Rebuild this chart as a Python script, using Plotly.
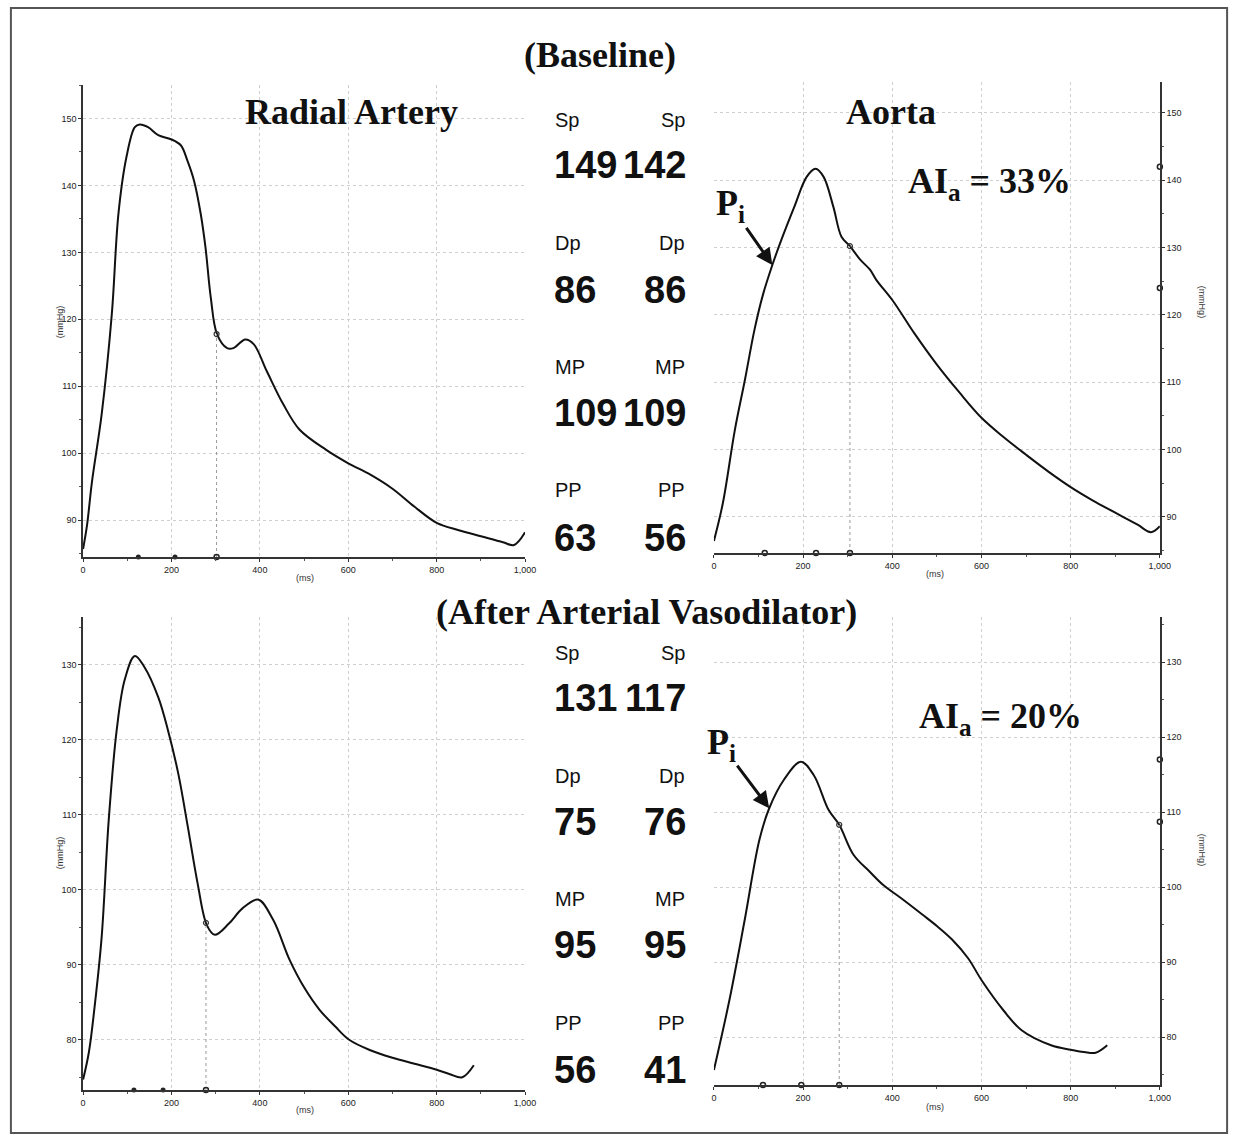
import plotly.graph_objects as go

W, H = 1246, 1141

# ---------------- data ----------------
radial_base_t = [0, 9, 20, 42, 65, 80, 98, 117, 128, 147, 170, 199, 221, 236, 251, 266, 277, 289, 303, 326, 340, 367, 386, 416, 453, 490, 550, 600, 650, 700, 750, 800, 850, 900, 950, 975, 1000]
radial_base_p = [85.7, 89.3, 95.7, 105.8, 120.8, 135.8, 144.2, 148.7, 149.1, 148.7, 147.5, 146.9, 146.0, 143.7, 140.7, 135.8, 130.7, 123.2, 117.8, 115.7, 115.7, 117.0, 116.3, 112.2, 107.3, 103.5, 100.5, 98.5, 96.8, 94.7, 92.0, 89.6, 88.5, 87.6, 86.7, 86.3, 88.2]

aorta_base_t = [0, 20, 47, 70, 91, 110, 131, 151, 180, 208, 228, 246, 268, 286, 305, 328, 350, 364, 400, 450, 500, 550, 600, 650, 700, 750, 800, 850, 900, 950, 980, 1000]
aorta_base_p = [86.4, 92.0, 102.9, 110.5, 117.8, 123.0, 127.4, 131.1, 136.0, 140.5, 141.7, 140.5, 136.0, 131.6, 130.2, 128.2, 126.7, 125.2, 122.2, 117.2, 112.6, 108.5, 104.7, 101.8, 99.2, 96.7, 94.4, 92.4, 90.6, 88.8, 87.7, 88.6]

radial_post_t = [0, 13, 27, 42, 58, 76, 94, 117, 139, 170, 192, 215, 237, 259, 280, 298, 330, 360, 396, 430, 467, 500, 535, 570, 602, 650, 700, 750, 800, 830, 858, 884]
radial_post_p = [74.7, 78.3, 84.9, 93.7, 109.3, 121.3, 128.0, 131.2, 129.7, 125.7, 121.3, 115.6, 108.4, 100.9, 95.3, 94.0, 95.5, 97.5, 98.7, 96.0, 90.7, 87.0, 84.0, 81.8, 80.0, 78.6, 77.6, 76.8, 76.0, 75.4, 75.0, 76.6]

aorta_post_t = [0, 35, 69, 102, 124, 157, 195, 224, 257, 281, 313, 350, 379, 420, 468, 500, 534, 570, 601, 650, 690, 756, 800, 830, 856, 882]
aorta_post_p = [75.6, 85.0, 95.6, 106.3, 110.5, 114.3, 116.7, 114.9, 110.3, 108.3, 104.3, 102.0, 100.3, 98.5, 96.3, 94.8, 93.0, 90.5, 87.5, 83.5, 80.9, 78.9, 78.3, 78.0, 77.9, 78.9]

# axis-baseline markers (ms) : filled / open
tl_marks_filled = [125, 208]
tl_marks_open = [302]
tr_marks_open = [114, 229, 305]
bl_marks_filled = [115, 181]
bl_marks_open = [278]
br_marks_open = [110, 196, 281]
# markers on the right (pressure) axis
tr_axis_marks = [142, 124]
br_axis_marks = [117, 108.7]
# dotted drop lines (ms, mmHg)
tl_drop = (302, 117.8)
tr_drop = (305, 130.2)
bl_drop = (278, 95.6)
br_drop = (281, 108.3)
# Pi arrow heads (ms, mmHg)
tr_pi = (131, 127.4)
br_pi = (124, 110.5)

# readout values
labels = ["Sp", "Dp", "MP", "PP"]
base_radial_vals = ["149", "86", "109", "63"]
base_aorta_vals = ["142", "86", "109", "56"]
post_radial_vals = ["131", "75", "95", "56"]
post_aorta_vals = ["117", "76", "95", "41"]

ranges = {
    "tl": [84.5, 155.0],
    "tr": [84.6, 154.6],
    "bl": [73.3, 136.4],
    "br": [73.6, 136.0],
}

def px_x(p):
    return p / W

def px_y(p):
    return 1 - p / H

fig = go.Figure()

LINE = dict(color="#111111", width=2)
TICKFONT = dict(family="Liberation Sans, Arial", size=9, color="#222222")

def add_panel(xa, ya, t, p, rng, filled, opened, drop, axis_marks=None):
    fig.add_trace(go.Scatter(x=t, y=p, mode="lines", line=dict(shape="spline", smoothing=1.0, **LINE),
                             xaxis=xa, yaxis=ya, showlegend=False, hoverinfo="skip"))
    fig.add_trace(go.Scatter(x=[drop[0], drop[0]], y=[rng[0], drop[1]], mode="lines",
                             line=dict(color="#999999", width=1, dash="dot"),
                             xaxis=xa, yaxis=ya, showlegend=False, hoverinfo="skip"))
    fig.add_trace(go.Scatter(x=[drop[0]], y=[drop[1]], mode="markers",
                             marker=dict(symbol="circle-open", size=5, color="#333333", line=dict(width=1.2)),
                             xaxis=xa, yaxis=ya, showlegend=False, hoverinfo="skip", cliponaxis=False))
    if filled:
        fig.add_trace(go.Scatter(x=filled, y=[rng[0]] * len(filled), mode="markers",
                                 marker=dict(symbol="circle", size=5, color="#222222"),
                                 xaxis=xa, yaxis=ya, showlegend=False, hoverinfo="skip", cliponaxis=False))
    if opened:
        fig.add_trace(go.Scatter(x=opened, y=[rng[0]] * len(opened), mode="markers",
                                 marker=dict(symbol="circle-open", size=5, color="#222222", line=dict(width=1.5)),
                                 xaxis=xa, yaxis=ya, showlegend=False, hoverinfo="skip", cliponaxis=False))
    if axis_marks:
        fig.add_trace(go.Scatter(x=[1000] * len(axis_marks), y=axis_marks, mode="markers",
                                 marker=dict(symbol="circle-open", size=5, color="#222222", line=dict(width=1.5)),
                                 xaxis=xa, yaxis=ya, showlegend=False, hoverinfo="skip", cliponaxis=False))

add_panel("x", "y", radial_base_t, radial_base_p, ranges["tl"], tl_marks_filled, tl_marks_open, tl_drop)
add_panel("x2", "y2", aorta_base_t, aorta_base_p, ranges["tr"], None, tr_marks_open, tr_drop, tr_axis_marks)
add_panel("x3", "y3", radial_post_t, radial_post_p, ranges["bl"], bl_marks_filled, bl_marks_open, bl_drop)
add_panel("x4", "y4", aorta_post_t, aorta_post_p, ranges["br"], None, br_marks_open, br_drop, br_axis_marks)

GRID = "#cfcfcf"

def xaxis_cfg(dom, anchor):
    return dict(domain=dom, anchor=anchor, range=[0, 1000], dtick=200, tickformat=",",
                showline=True, linecolor="#333333", linewidth=1.5, ticks="outside", ticklen=3,
                tickcolor="#333333", tickfont=TICKFONT, showgrid=True, gridcolor=GRID,
                griddash="dot", gridwidth=1, zeroline=False, fixedrange=True,
                minor=dict(dtick=100, ticks="outside", ticklen=2, tickcolor="#555555", showgrid=False))

def yaxis_cfg(dom, anchor, rng, side):
    return dict(domain=dom, anchor=anchor, range=rng, dtick=10, side=side,
                showline=True, linecolor="#333333", linewidth=1.5, ticks="outside", ticklen=3,
                tickcolor="#333333", tickfont=TICKFONT, showgrid=True, gridcolor=GRID,
                griddash="dot", gridwidth=1, zeroline=False, fixedrange=True,
                minor=dict(dtick=5, ticks="outside", ticklen=2, tickcolor="#555555", showgrid=False))

xl = [px_x(81), px_x(528)]
xr = [px_x(719), px_x(1170)]
fig.update_layout(
    xaxis=xaxis_cfg(xl, "y"),
    yaxis=yaxis_cfg([px_y(557), px_y(85)], "x", ranges["tl"], "left"),
    xaxis2=xaxis_cfg(xr, "y2"),
    yaxis2=yaxis_cfg([px_y(553), px_y(82)], "x2", ranges["tr"], "right"),
    xaxis3=xaxis_cfg(xl, "y3"),
    yaxis3=yaxis_cfg([px_y(1090), px_y(617)], "x3", ranges["bl"], "left"),
    xaxis4=xaxis_cfg(xr, "y4"),
    yaxis4=yaxis_cfg([px_y(1085), px_y(617)], "x4", ranges["br"], "right"),
)

ann = []
SERIF = "Liberation Serif, Times New Roman, serif"
SANS = "Liberation Sans, Arial, sans-serif"

def text(xp, yp, s, size, family=SERIF, bold=True, xanchor="center", angle=0, color="#111111"):
    ann.append(dict(x=px_x(xp), y=px_y(yp), xref="paper", yref="paper", text=(f"<b>{s}</b>" if bold else s),
                    showarrow=False, xanchor=xanchor, yanchor="middle", textangle=angle,
                    font=dict(family=family, size=size, color=color)))

text(604, 55, "(Baseline)", 36)
text(352, 112, "Radial Artery", 36)
text(898, 112, "Aorta", 36)
text(651, 612, "(After Arterial Vasodilator)", 36)
text(998, 183, "AI<sub>a</sub> = 33%", 36)
text(1009, 718, "AI<sub>a</sub> = 20%", 36)

# axis titles
text(58, 322, "(mmHg)", 9, family=SANS, bold=False, angle=-90, color="#333333")
text(1213, 302, "(mmHg)", 9, family=SANS, bold=False, angle=90, color="#333333")
text(58, 853, "(mmHg)", 9, family=SANS, bold=False, angle=-90, color="#333333")
text(1213, 850, "(mmHg)", 9, family=SANS, bold=False, angle=90, color="#333333")
text(305, 578, "(ms)", 9, family=SANS, bold=False, color="#333333")
text(943, 574, "(ms)", 9, family=SANS, bold=False, color="#333333")
text(305, 1110, "(ms)", 9, family=SANS, bold=False, color="#333333")
text(943, 1107, "(ms)", 9, family=SANS, bold=False, color="#333333")

# central readouts
top_label_y = [120, 243, 367, 490]
top_val_y = [165, 290, 413, 538]
bot_label_y = [653, 776, 899, 1023]
bot_val_y = [698, 822, 945, 1070]

def readout(label_ys, val_ys, left_vals, right_vals):
    for lab, ly, vy, lv, rv in zip(labels, label_ys, val_ys, left_vals, right_vals):
        text(556, ly, lab, 20, family=SANS, bold=False, xanchor="left")
        text(692, ly, lab, 20, family=SANS, bold=False, xanchor="right")
        text(555, vy, lv, 38, family=SANS, bold=True, xanchor="left")
        text(693, vy, rv, 38, family=SANS, bold=True, xanchor="right")

readout(top_label_y, top_val_y, base_radial_vals, base_aorta_vals)
readout(bot_label_y, bot_val_y, post_radial_vals, post_aorta_vals)

# Pi labels with arrows
for xa, ya, pt, off in [("x2", "y2", tr_pi, (-42, -60)), ("x4", "y4", br_pi, (-48, -64))]:
    ann.append(dict(x=pt[0], y=pt[1], xref=xa, yref=ya, ax=off[0], ay=off[1], axref="pixel", ayref="pixel",
                    showarrow=True, arrowhead=2, arrowsize=1.1, arrowwidth=3, arrowcolor="#111111",
                    text="<b>P<sub>i</sub></b>", font=dict(family=SERIF, size=36, color="#111111")))

fig.update_layout(
    width=W, height=H, autosize=False, margin=dict(l=0, r=0, t=0, b=0),
    paper_bgcolor="white", plot_bgcolor="rgba(0,0,0,0)",
    annotations=ann, showlegend=False, hovermode=False,
    shapes=[dict(type="rect", xref="paper", yref="paper", x0=px_x(8), x1=px_x(1238), y0=px_y(1133), y1=px_y(8),
                 line=dict(color="#555555", width=2))],
)

post = ("document.documentElement.style.margin='0px';document.body.style.margin='0px';"
        "document.body.style.padding='0px';document.body.style.overflow='hidden';"
        "document.documentElement.style.overflow='hidden';"
        "var gd=document.getElementById('{plot_id}');"
        "var vw=window.innerWidth||%d; if(vw<1200||vw>1320){vw=%d;}"
        "gd.style.width=vw+'px';"
        "Plotly.relayout(gd,{width:vw,height:%d});" % (W, W, H))

fig.write_html("out.html", config={"displayModeBar": False, "responsive": False}, post_script=post)
